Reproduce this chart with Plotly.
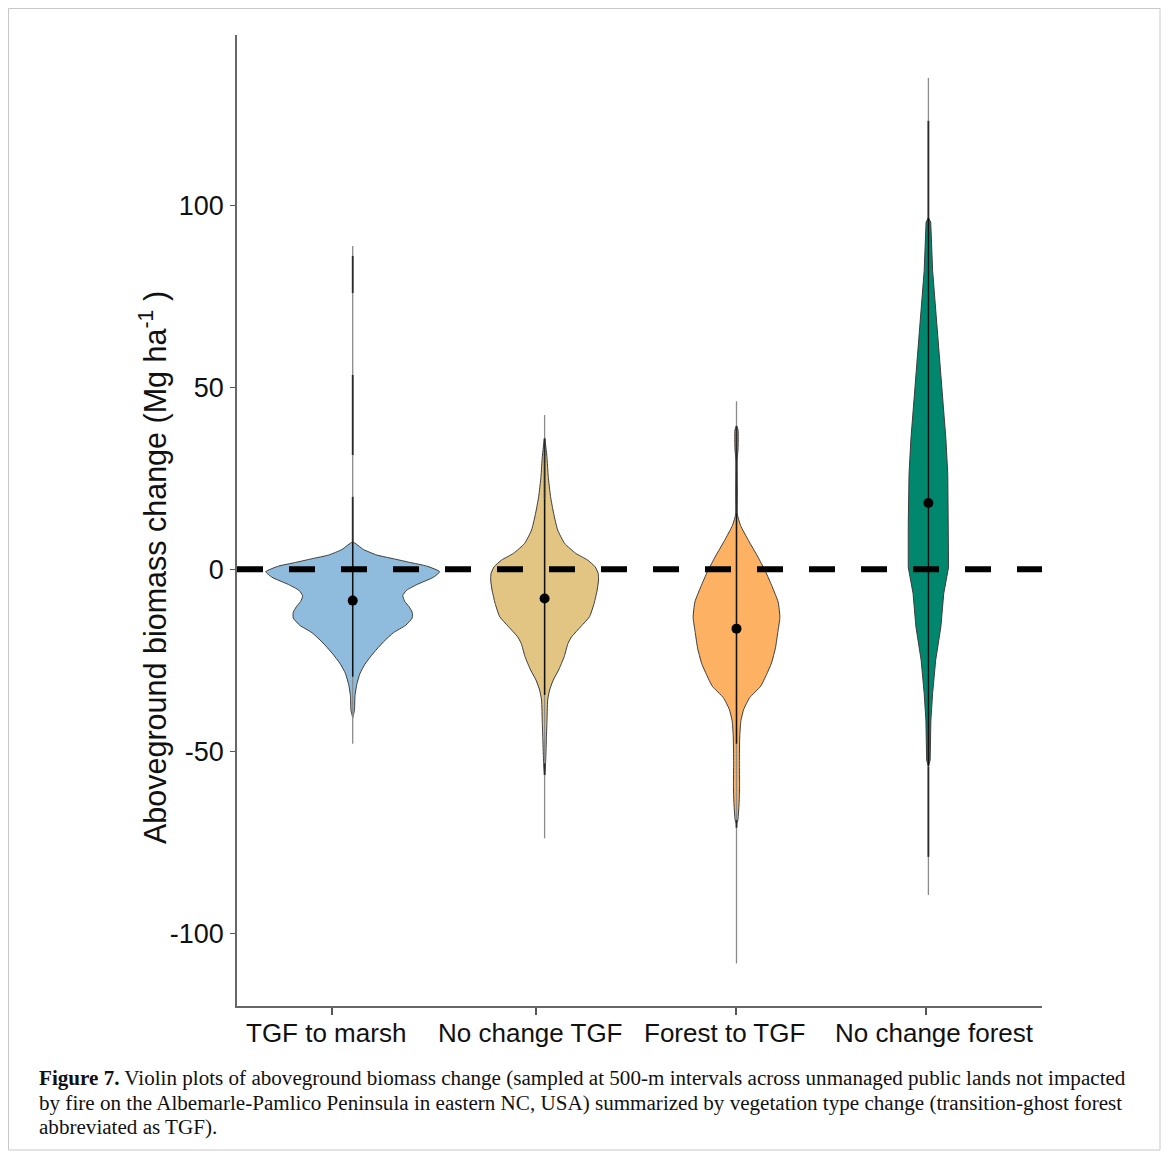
import numpy as np
import plotly.graph_objects as go

# ---------------- data ----------------
categories = ["TGF to marsh", "No change TGF", "Forest to TGF", "No change forest"]
centers = [0, 1, 2, 3]
tick_pos = [-0.106, 0.957, 1.998, 2.988]
label_pos = [-0.138, 0.926, 1.937, 3.03]
y_ticks = [-100, -50, 0, 50, 100]
y_tick_text = ["-100", "-50", "0", "50", "100"]

medians = [-8.6, -8.0, -16.3, 18.2]
line_top = [88.8, 42.4, 46.2, 135.0]
line_bottom = [-47.9, -73.9, -108.3, -89.5]
inner_top = [7.5, 19.5, 15.2, 96.5]
inner_bottom = [-29.5, -34.5, -47.9, -54.2]
dark_segments = [
    [[86.1, 75.9], [53.4, 31.4], [19.9, 7.5]],
    [[36.0, 19.5], [-53.3, -56.5]],
    [[39.4, 15.2], [-68.9, -71.0]],
    [[123.2, 95.7], [-54.3, -79.0]],
]

# density profiles: biomass change value and half width (category units)
tgf_marsh_y = [7.47, 5.44, 3.93, 2.91, 1.90, 0.88, -0.66, -2.17, -4.20, -5.74, -7.25, -8.79,
               -10.30, -11.81, -13.35, -15.38, -17.42, -19.95, -22.99, -26.04, -28.60, -31.65,
               -34.70, -38.74, -40.77]
tgf_marsh_w = [0, 0.056, 0.125, 0.212, 0.297, 0.386, 0.453, 0.421, 0.334, 0.281, 0.261, 0.271,
               0.294, 0.310, 0.310, 0.276, 0.212, 0.160, 0.108, 0.064, 0.038, 0.021,
               0.012, 0.009, 0.0]

nochange_tgf_y = [35.99, 30.93, 25.44, 19.95, 15.38, 10.80, 7.14, 4.40, 2.55, 0.71, -1.10, -2.94,
                  -5.69, -9.34, -13.02, -15.77, -18.52, -20.33, -24.01, -27.66, -30.41, -33.16,
                  -35.91, -42.31, -46.90, -53.30, -56.51]
nochange_tgf_w = [0, 0.012, 0.019, 0.031, 0.047, 0.068, 0.104, 0.162, 0.224, 0.263, 0.279, 0.281,
                  0.274, 0.258, 0.234, 0.188, 0.141, 0.122, 0.102, 0.073, 0.045, 0.026,
                  0.016, 0.012, 0.009, 0.005, 0]

forest_tgf_y = [39.37, 38.27, 33.05, 30.03, 20.41, 15.19, 12.06, 7.86, 3.65, -0.58, -4.78, -8.98,
                -13.19, -17.39, -21.59, -25.80, -28.96, -32.12, -35.25, -38.41, -41.57, -45.77,
                -53.13, -59.45, -63.65, -68.90, -69.95]
forest_tgf_w = [0, 0.008, 0.008, 0.003, 0.004, 0.004, 0.021, 0.063, 0.109, 0.151, 0.186, 0.217,
                0.226, 0.215, 0.203, 0.182, 0.156, 0.126, 0.069, 0.038, 0.023, 0.017,
                0.015, 0.016, 0.014, 0.007, 0]

nochange_forest_y = [96.51, 95.41, 82.03, 73.19, 64.37, 55.55, 45.71, 35.91, 26.10, 12.36, 0.60,
                     -2.03, -6.59, -15.77, -24.92, -34.07, -41.40, -52.39, -54.23]
nochange_forest_w = [0, 0.012, 0.022, 0.035, 0.048, 0.061, 0.076, 0.091, 0.101, 0.105, 0.105,
                     0.096, 0.080, 0.065, 0.038, 0.022, 0.013, 0.009, 0]

profiles_y = [tgf_marsh_y, nochange_tgf_y, forest_tgf_y, nochange_forest_y]
profiles_w = [tgf_marsh_w, nochange_tgf_w, forest_tgf_w, nochange_forest_w]

colors = ["#8FBCDD", "#E2C582", "#FDB163", "#00876D"]
smooth = [True, True, True, False]

# ---------------- figure ----------------
fig = go.Figure()

for i in range(4):
    c = centers[i]
    y = np.array(profiles_y[i])
    w = np.array(profiles_w[i])
    xs = np.concatenate([c + w, (c - w)[::-1]])
    ys = np.concatenate([y, y[::-1]])
    fig.add_trace(go.Scatter(
        x=xs, y=ys, mode="lines", fill="toself", fillcolor=colors[i],
        line=dict(color="#3c3c3c", width=1,
                  shape="spline" if smooth[i] else "linear", smoothing=0.5),
        hoverinfo="skip", showlegend=False))
    # full-range thin line
    fig.add_trace(go.Scatter(
        x=[c, c], y=[line_top[i], line_bottom[i]], mode="lines",
        line=dict(color="#8a8a8a", width=1.3), hoverinfo="skip", showlegend=False))
    for seg in dark_segments[i]:
        fig.add_trace(go.Scatter(
            x=[c, c], y=seg, mode="lines",
            line=dict(color="#2a2a2a", width=1.8), hoverinfo="skip", showlegend=False))
    fig.add_trace(go.Scatter(
        x=[c, c], y=[inner_top[i], inner_bottom[i]], mode="lines",
        line=dict(color="#111111", width=1.5), hoverinfo="skip", showlegend=False))

x_range = [-0.603, 3.592]
y_range = [-119.97, 146.79]

# dashed zero reference line
fig.add_trace(go.Scatter(
    x=x_range, y=[0, 0], mode="lines",
    line=dict(color="black", width=6, dash="26px,26px"),
    hoverinfo="skip", showlegend=False))

# medians
fig.add_trace(go.Scatter(
    x=centers, y=medians, mode="markers",
    marker=dict(color="black", size=10), hoverinfo="skip", showlegend=False))

# page body has an 8px margin; compensate so the figure lands where the reference is
OFF = 8
W, H = 1169 - OFF, 1157 - OFF
L = 237 - OFF
T = 35 - OFF
R = W - (1042 - OFF)
B = H - (1006 - OFF)
pw, ph = W - L - R, H - T - B

def px_x(p):
    return (p - OFF - L) / pw

def px_y(p):
    return (H - B - (p - OFF)) / ph

axis_font = dict(family="Liberation Sans, Arial, sans-serif", size=27, color="#111111")

fig.update_layout(
    width=W, height=H,
    margin=dict(l=L, r=R, t=T, b=B, pad=0),
    plot_bgcolor="white", paper_bgcolor="white",
    showlegend=False,
    xaxis=dict(range=x_range, showgrid=False, zeroline=False,
               showline=True, linecolor="#666666", linewidth=1.5,
               ticks="outside", ticklen=7, tickwidth=1.5, tickcolor="#555555",
               tickvals=tick_pos, showticklabels=False),
    yaxis=dict(range=y_range, showgrid=False, zeroline=False,
               showline=True, linecolor="#666666", linewidth=1.5,
               ticks="outside", ticklen=5, tickwidth=1.2, tickcolor="#555555",
               tickvals=y_ticks, ticktext=y_tick_text, tickfont=axis_font,
               ticklabelstandoff=1),
)

# category labels
for lab, xp in zip(categories, label_pos):
    fig.add_annotation(
        xref="x", yref="paper", x=xp, y=px_y(1033),
        text=lab, showarrow=False, xanchor="center", yanchor="middle",
        font=dict(family="Liberation Sans, Arial, sans-serif", size=26, color="#111111"))

# y-axis title
fig.add_annotation(
    xref="paper", yref="paper", x=px_x(153), y=px_y(568),
    text="Aboveground biomass change (Mg ha<sup>-1</sup> )",
    textangle=-90, showarrow=False, xanchor="center", yanchor="middle",
    font=dict(family="Liberation Sans, Arial, sans-serif", size=30.5, color="#111111"))

# caption
caption_lines = [
    "<b>Figure 7.</b> Violin plots of aboveground biomass change (sampled at 500-m intervals across unmanaged public lands not impacted",
    "by fire on the Albemarle-Pamlico Peninsula in eastern NC, USA) summarized by vegetation type change (transition-ghost forest",
    "abbreviated as TGF).",
]
caption_y = [1078, 1103, 1127]
for txt, yy in zip(caption_lines, caption_y):
    fig.add_annotation(
        xref="paper", yref="paper", x=px_x(37), y=px_y(yy),
        text=txt, showarrow=False, xanchor="left", yanchor="middle",
        font=dict(family="Liberation Serif, Times New Roman, serif", size=21.1, color="#111111"))

# outer frame
fig.add_shape(type="rect", xref="paper", yref="paper",
              x0=px_x(8.5), x1=px_x(1160), y0=px_y(1150), y1=px_y(8.5),
              line=dict(color="#c8c8c8", width=1), layer="below")

fig.write_html("out.html")
